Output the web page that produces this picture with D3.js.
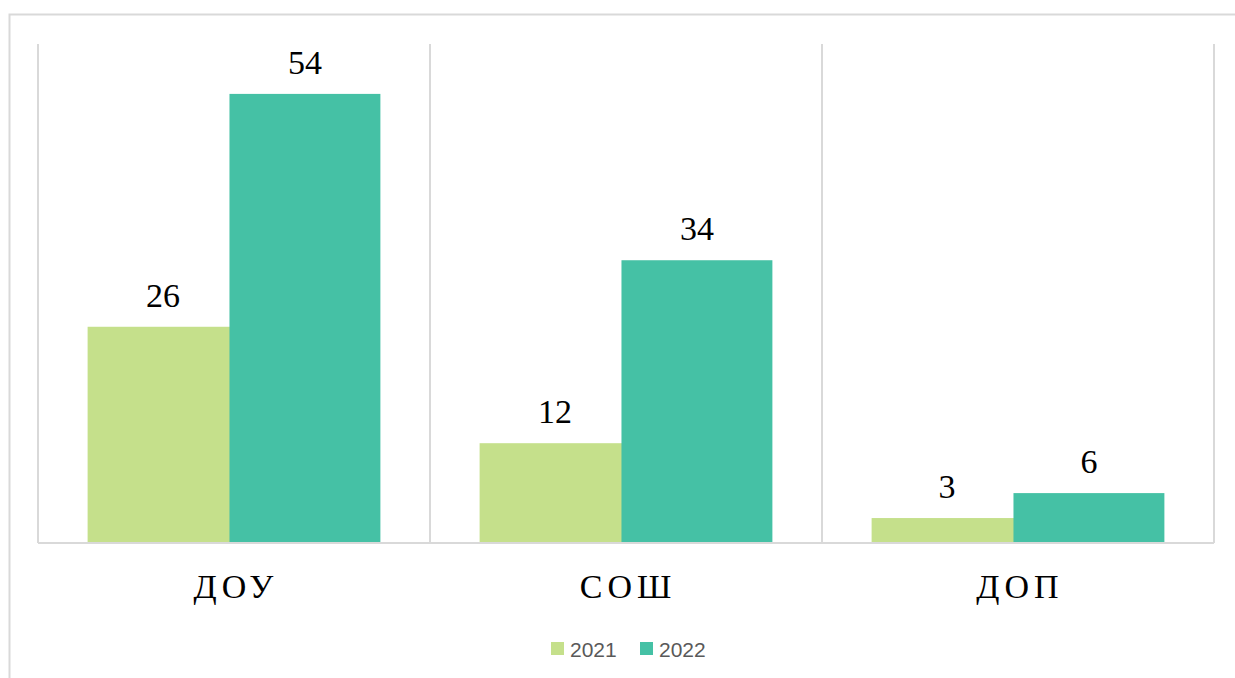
<!DOCTYPE html>
<html><head><meta charset="utf-8">
<script src="https://cdn.jsdelivr.net/npm/d3@7"></script>
</head><body style="margin:0">
<svg id="c" width="1235" height="678"></svg>
<script>
const categories = ["ДОУ", "СОШ", "ДОП"];
const seriesNames = ["2021", "2022"];
const values2021 = [26, 12, 3];
const values2022 = [54, 34, 6];
const colors = ["#c5e08b", "#45c1a5"];

(function () {
const svg = d3.select("#c");
const W = 1235, H = 678;
const pLeft = 38, pRight = 1214, pTop = 44, pBottom = 543;

svg.append("path").attr("d", `M9.5,${H+5} V14.5 H${W+5}`).attr("fill","none").attr("stroke","#d9d9d9").attr("stroke-width",2);

const x = d3.scaleBand().domain(categories).range([pLeft, pRight]).padding(0);
const y = d3.scaleLinear().domain([0, 60]).range([pBottom, pTop]);

const bounds = categories.map(c => x(c)).concat([pRight]);
svg.append("g").selectAll("line").data(bounds).join("line")
  .attr("x1", d => d).attr("x2", d => d).attr("y1", pTop).attr("y2", pBottom)
  .attr("stroke", "#d9d9d9").attr("stroke-width", 2);

const bw = x.bandwidth();
const barW = bw * 0.385;
const overlapStep = barW * 0.94;
const offset = (bw - barW - overlapStep) / 2;

[values2021, values2022].forEach((vals, si) => {
  const g = svg.append("g");
  g.selectAll("rect").data(vals).join("rect")
    .attr("x", (d, i) => x(categories[i]) + offset + si * overlapStep)
    .attr("width", barW)
    .attr("y", d => y(d))
    .attr("height", d => y(0) - y(d))
    .attr("fill", colors[si]);
});

svg.append("line").attr("x1", pLeft).attr("x2", pRight).attr("y1", pBottom).attr("y2", pBottom)
  .attr("stroke", "#d9d9d9").attr("stroke-width", 2);

function centered(cx, cy, str, spacing) {
  const t = svg.append("text")
    .style("font-family", '"Liberation Serif"')
    .attr("font-size", 34)
    .attr("y", cy)
    .text(str);
  if (spacing) t.attr("letter-spacing", spacing);
  const w = t.node().getComputedTextLength();
  t.attr("x", cx - w / 2);
}

[values2021, values2022].forEach((vals, si) => {
  vals.forEach((d, i) => {
    centered(x(categories[i]) + offset + si * overlapStep + barW / 2, y(d) - 20, String(d), 0);
  });
});

categories.forEach(c => centered(x(c) + bw / 2 + 2, 598, c, 5));

const legX = [551, 640];
seriesNames.forEach((s, i) => {
  svg.append("rect").attr("x", legX[i]).attr("y", 642).attr("width", 13).attr("height", 13).attr("fill", colors[i]);
  svg.append("text").style("font-family", '"Liberation Sans"').attr("font-size", 21)
    .attr("x", legX[i] + 19).attr("y", 657)
    .attr("fill", "#595959").text(s);
});
})();
</script>
</body></html>
